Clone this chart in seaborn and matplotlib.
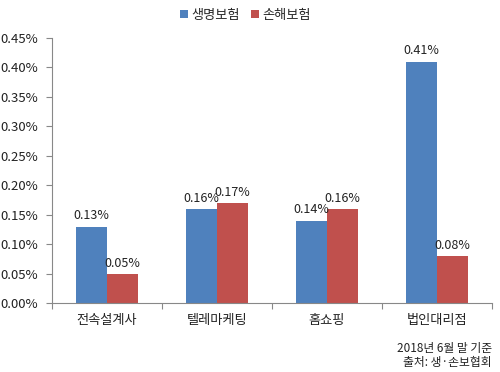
import matplotlib
matplotlib.use("Agg")
import matplotlib.pyplot as plt
import seaborn as sns
import pandas as pd
from matplotlib.ticker import FuncFormatter, FixedLocator

categories = ["전속설계사", "텔레마케팅", "홈쇼핑", "법인대리점"]
life = [0.13, 0.16, 0.14, 0.41]
nonlife = [0.05, 0.17, 0.16, 0.08]
series = ["생명보험", "손해보험"]
yticks = [0.00, 0.05, 0.10, 0.15, 0.20, 0.25, 0.30, 0.35, 0.40, 0.45]

sns.set_theme(style="white")
plt.rcParams['font.family'] = ['Noto Sans CJK KR', 'DejaVu Sans']

df = pd.DataFrame({
    "cat": categories * 2,
    "series": [series[0]] * 4 + [series[1]] * 4,
    "value": life + nonlife,
})

fig = plt.figure(figsize=(5, 3.72), dpi=100)
ax = fig.add_axes([0.104, 0.185, 0.88, 0.713])
palette = {series[0]: "#4F81BD", series[1]: "#C0504D"}
sns.barplot(data=df, x="cat", y="value", hue="series", palette=palette,
            width=0.57, ax=ax, saturation=1, legend=True, linewidth=0)

for cont in ax.containers:
    labels = [f"{v:.2f}%" for v in cont.datavalues]
    ax.bar_label(cont, labels=labels, padding=3, fontsize=9, color="#222222")

ax.set_ylim(0, 0.45)
ax.set_xlim(-0.5, 3.5)
ax.set_yticks(yticks)
ax.yaxis.set_major_formatter(FuncFormatter(lambda v, p: f"{v:.2f}%"))
ax.set_xlabel("")
ax.set_ylabel("")
ax.xaxis.set_major_locator(FixedLocator(range(4)))
ax.set_xticklabels(categories)
ax.xaxis.set_minor_locator(FixedLocator([-0.5, 0.5, 1.5, 2.5, 3.5]))
ax.tick_params(axis="x", which="major", length=0, pad=8, labelsize=9.5, labelcolor="#222222")
ax.tick_params(axis="x", which="minor", length=4, color="#888888", width=0.8, direction="out", bottom=True)
ax.tick_params(axis="y", length=4, color="#888888", width=0.8, direction="out", left=True,
               labelsize=9.5, labelcolor="#222222", pad=6)
for s in ["top", "right"]:
    ax.spines[s].set_visible(False)
for s in ["left", "bottom"]:
    ax.spines[s].set_color("#888888")
    ax.spines[s].set_linewidth(0.8)

leg = ax.legend(loc="upper center", bbox_to_anchor=(0.44, 1.155), ncol=2, frameon=False,
                fontsize=9.5, handlelength=0.6, handleheight=0.6, handletextpad=0.3,
                columnspacing=0.8)

fig.text(0.984, 0.062, "2018년 6월 말 기준", ha="right", va="center", fontsize=8.5, color="#222222")
fig.text(0.984, 0.025, "출처: 생·손보협회", ha="right", va="center", fontsize=8.5, color="#222222")

fig.savefig("out.png", dpi=100)
